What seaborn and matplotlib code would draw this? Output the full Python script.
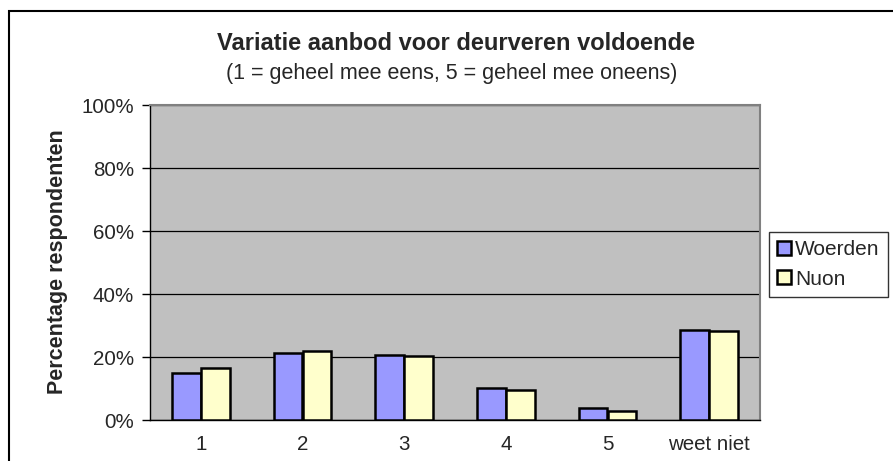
import numpy as np
import pandas as pd
import seaborn as sns
import matplotlib.pyplot as plt
from matplotlib.patches import Patch, Rectangle

# data (percent of respondents)
categories = ['1', '2', '3', '4', '5', 'weet niet']
woerden = [15.0, 21.3, 20.6, 10.2, 3.9, 28.5]
nuon = [16.4, 21.9, 20.3, 9.6, 2.9, 28.4]
series = ['Woerden', 'Nuon']
colors = ['#9999FF', '#FFFFCC']
y_ticks = [0, 20, 40, 60, 80, 100]
y_tick_labels = ['0%', '20%', '40%', '60%', '80%', '100%']

df = pd.DataFrame({
    'categorie': categories * 2,
    'reeks': [series[0]] * len(categories) + [series[1]] * len(categories),
    'pct': woerden + nuon,
})

sns.set_style('white')
plt.rcParams['font.family'] = ['Liberation Sans', 'DejaVu Sans']

W, H = 893, 461
fig = plt.figure(figsize=(W / 100, H / 100), dpi=100)
ax = fig.add_axes([150 / W, (H - 420) / H, 610 / W, 315 / H])
ax.set_facecolor('#C0C0C0')

sns.barplot(data=df, x='categorie', y='pct', hue='reeks', order=categories,
            hue_order=series, palette=colors, saturation=1, width=0.57,
            gap=0, edgecolor='black', linewidth=1.8, legend=False, ax=ax,
            zorder=3)

ax.set_ylim(0, 100)
ax.set_xlim(-0.5, len(categories) - 0.5)
ax.set_yticks(y_ticks)
ax.set_yticklabels(y_tick_labels)
ax.yaxis.grid(True, color='black', linewidth=0.9, zorder=1)
ax.set_axisbelow(True)

# category labels at centres, tick marks at boundaries
ax.set_xticks(np.arange(len(categories)))
ax.set_xticklabels(categories)
ax.set_xticks(np.arange(len(categories) + 1) - 0.5, minor=True)
ax.tick_params(axis='x', which='major', length=0, pad=11, labelsize=14.8)
ax.tick_params(axis='x', which='minor', length=4.5, width=1, direction='out',
               color='black')
ax.tick_params(axis='y', length=5.5, width=1, direction='out', color='black',
               pad=6, labelsize=14.8, left=True)
ax.set_xlabel('')
ax.set_ylabel('')

for side in ['left', 'bottom']:
    ax.spines[side].set_color('black')
    ax.spines[side].set_linewidth(1)
for side in ['top', 'right']:
    ax.spines[side].set_color('#808080')
    ax.spines[side].set_linewidth(1.5)

fig.text(456 / W, 1 - 43 / H, 'Variatie aanbod voor deurveren voldoende',
         ha='center', va='center', fontsize=17, fontweight='bold')
fig.text(452 / W, 1 - 73 / H, '(1 = geheel mee eens, 5 = geheel mee oneens)',
         ha='center', va='center', fontsize=15.5)
fig.text(58 / W, 1 - 262 / H, 'Percentage respondenten', rotation=90,
         ha='center', va='center', fontsize=15.5, fontweight='bold')

handles = [Patch(facecolor=c, edgecolor='black', linewidth=1.8) for c in colors]
leg = fig.legend(handles, series, loc='upper left',
                 bbox_to_anchor=(769 / W, 1 - 232 / H), fontsize=15,
                 frameon=True, fancybox=False, handlelength=0.65,
                 handleheight=0.65, handletextpad=0.2, borderpad=0.4,
                 labelspacing=0.5, borderaxespad=0)
leg.get_frame().set_edgecolor('black')
leg.get_frame().set_linewidth(1)

# outer chart border (cut off at right and bottom like the reference)
fig.patches.append(Rectangle((9 / W, -0.2), 1.2, 1.2 - 11 / H,
                             transform=fig.transFigure, fill=False,
                             edgecolor='black', linewidth=1.5))

fig.savefig('out.png', dpi=100)
